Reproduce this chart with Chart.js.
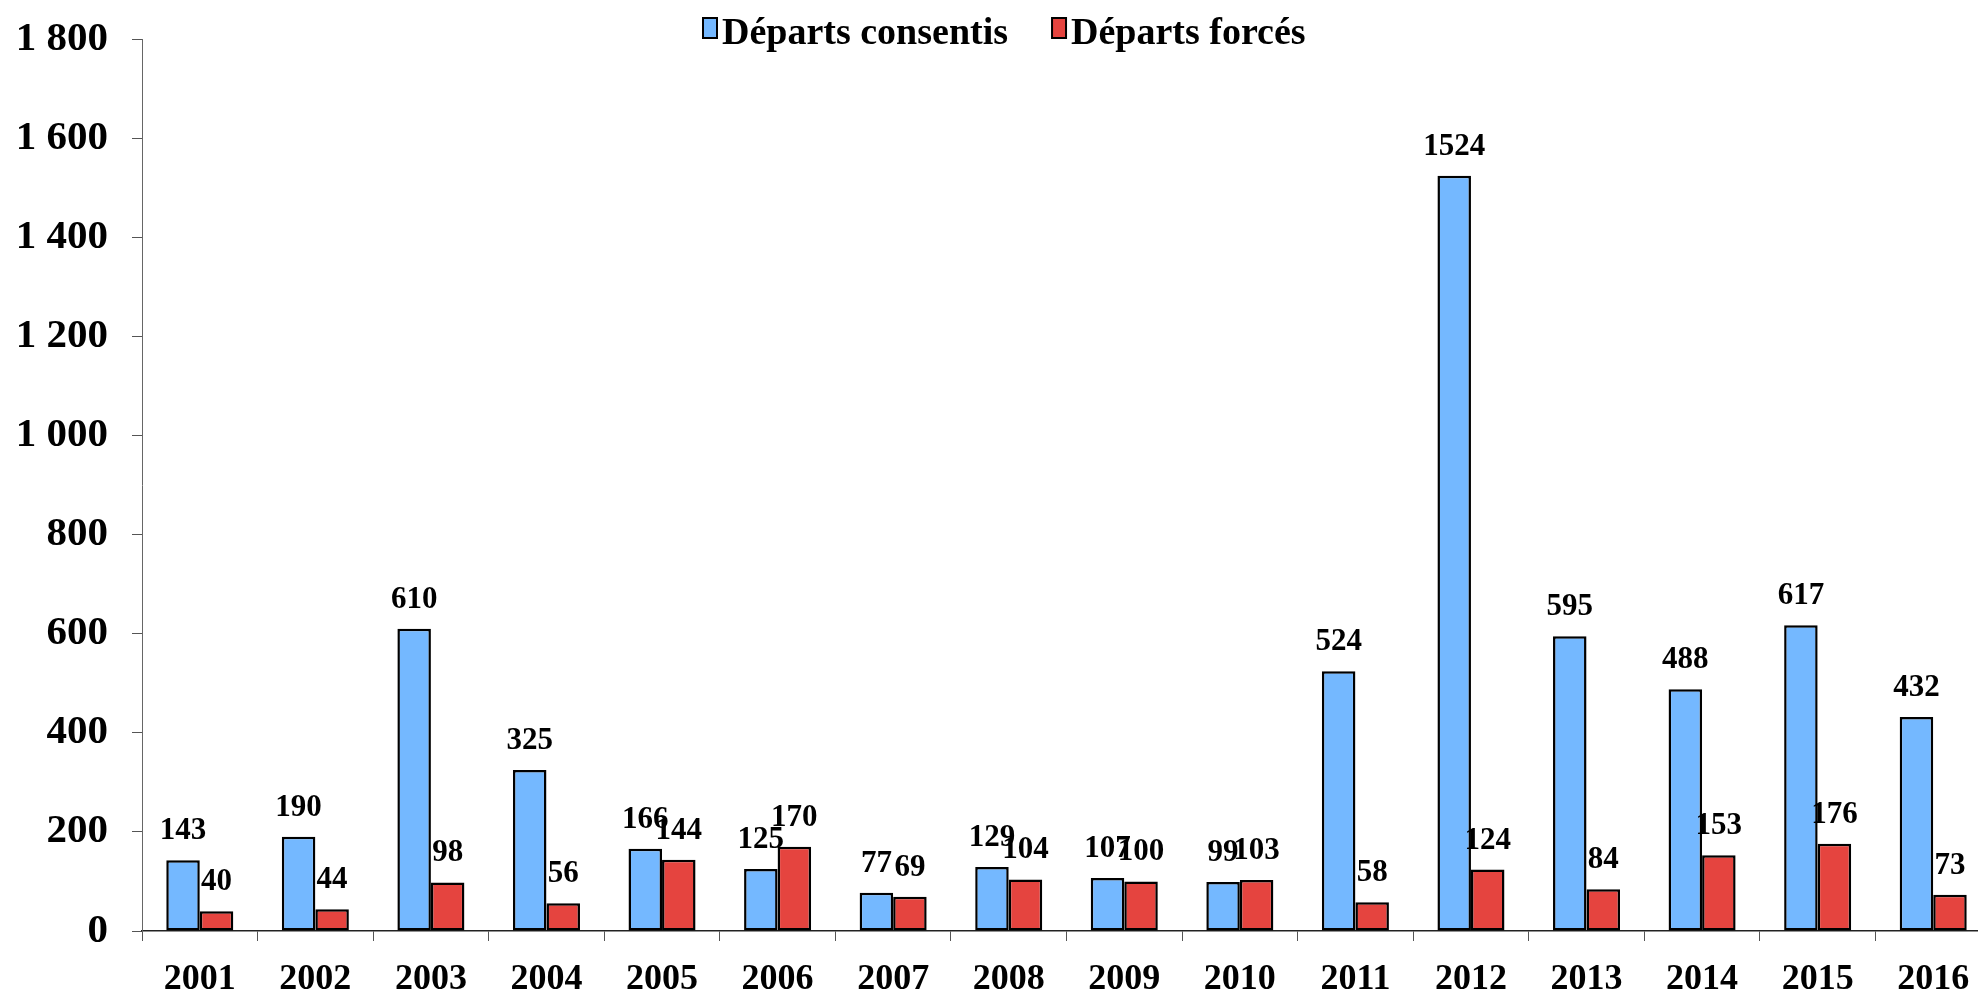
<!DOCTYPE html>
<html>
<head>
<meta charset="utf-8">
<script src="https://cdn.jsdelivr.net/npm/chart.js@4.4.1/dist/chart.umd.min.js"></script>
<style>
html, body { margin:0; padding:0; overflow:hidden; background:#ffffff; width:1978px; height:989px; }
#wrap { position:absolute; left:0; top:0; width:1995px; height:1000px; }
</style>
</head>
<body>
<div id="wrap"><canvas id="c" width="1995" height="1000"></canvas></div>
<script>
const years = ['2001','2002','2003','2004','2005','2006','2007','2008','2009','2010','2011','2012','2013','2014','2015','2016'];
const departsConsentis = [143, 190, 610, 325, 166, 125, 77, 129, 107, 99, 524, 1524, 595, 488, 617, 432];
const departsForces = [40, 44, 98, 56, 144, 170, 69, 104, 100, 103, 58, 124, 84, 153, 176, 73];
const seriesNames = ['Départs consentis', 'Départs forcés'];
const yTickLabels = ['0', '200', '400', '600', '800', '1 000', '1 200', '1 400', '1 600', '1 800'];

const SERIF = "'Liberation Serif', 'Times New Roman', Times, serif";
const COLORS = ['#74B8FF', '#E5443F'];

const dataLabelPlugin = {
  id: 'dataLabels',
  afterDatasetsDraw(chart) {
    const ctx = chart.ctx;
    ctx.save();
    ctx.font = 'bold 31px ' + SERIF;
    ctx.fillStyle = '#000';
    ctx.textAlign = 'center';
    ctx.textBaseline = 'alphabetic';
    chart.data.datasets.forEach((ds, di) => {
      const meta = chart.getDatasetMeta(di);
      meta.data.forEach((bar, i) => {
        ctx.fillText(String(ds.data[i]), bar.x, bar.y - 21);
      });
    });
    ctx.restore();
  }
};

const legendPlugin = {
  id: 'customLegend',
  afterDraw(chart) {
    const ctx = chart.ctx;
    ctx.save();
    ctx.font = 'bold 38px ' + SERIF;
    ctx.textBaseline = 'alphabetic';
    ctx.textAlign = 'left';
    let x = 703;
    const boxW = 14, boxH = 20, boxY = 18, textY = 44, gapText = 5, gapItem = 44;
    chart.data.datasets.forEach((ds, di) => {
      ctx.fillStyle = ds.backgroundColor;
      ctx.fillRect(x, boxY, boxW, boxH);
      ctx.lineWidth = 2;
      ctx.strokeStyle = '#000';
      ctx.strokeRect(x, boxY, boxW, boxH);
      ctx.fillStyle = '#000';
      const tx = x + boxW + gapText;
      ctx.fillText(ds.label, tx, textY);
      x = tx + ctx.measureText(ds.label).width + gapItem;
    });
    ctx.restore();
  }
};

new Chart(document.getElementById('c'), {
  type: 'bar',
  data: {
    labels: years,
    datasets: [
      { label: seriesNames[0], data: departsConsentis, backgroundColor: COLORS[0], borderColor: '#000', borderWidth: 2.5, borderSkipped: false, categoryPercentage: 0.58, barPercentage: 1 },
      { label: seriesNames[1], data: departsForces, backgroundColor: COLORS[1], borderColor: '#000', borderWidth: 2.5, borderSkipped: false, categoryPercentage: 0.58, barPercentage: 1 }
    ]
  },
  options: {
    responsive: false,
    animation: false,
    devicePixelRatio: 1,
    layout: { padding: { top: 39, right: 4, left: 0, bottom: 0 } },
    plugins: { legend: { display: false }, tooltip: { enabled: false } },
    scales: {
      x: {
        grid: { offset: true, drawOnChartArea: false, drawTicks: true, tickLength: 10, color: '#555' },
        border: { display: true, color: '#222', width: 1.5 },
        ticks: { color: '#000', font: { family: SERIF, size: 36, weight: 'bold' }, padding: 17, maxRotation: 0, autoSkip: false },
        afterFit: (s) => { s.height = 69; s.paddingLeft = 0; s.paddingRight = 0; }
      },
      y: {
        min: 0, max: 1800,
        grid: { drawOnChartArea: false, drawTicks: true, tickLength: 10, color: '#555' },
        border: { display: true, color: '#666', width: 1 },
        ticks: { stepSize: 200, color: '#000', padding: 24, font: { family: SERIF, size: 41, weight: 'bold' }, callback: (v, i) => yTickLabels[i] },
        afterFit: (s) => { s.width = 142; s.paddingTop = 0; s.paddingBottom = 0; }
      }
    }
  },
  plugins: [dataLabelPlugin, legendPlugin]
});
</script>
</body>
</html>
